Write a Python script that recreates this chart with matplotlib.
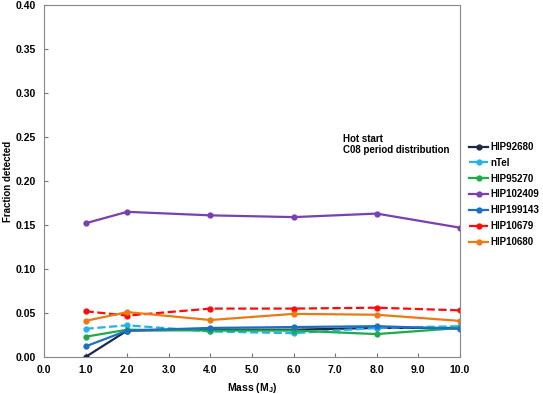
import matplotlib.pyplot as plt
import numpy as np

plt.rcParams['font.family'] = ['Liberation Sans', 'DejaVu Sans']
plt.rcParams['font.weight'] = 'bold'

mass = [1.0, 2.0, 4.0, 6.0, 8.0, 10.0]

hip92680 = [0.000, 0.030, 0.031, 0.031, 0.033, 0.033]
ntel = [0.032, 0.036, 0.029, 0.027, 0.033, 0.035]
hip95270 = [0.023, 0.031, 0.030, 0.030, 0.026, 0.033]
hip102409 = [0.152, 0.165, 0.161, 0.159, 0.163, 0.147]
hip199143 = [0.012, 0.030, 0.033, 0.034, 0.035, 0.032]
hip10679 = [0.052, 0.047, 0.055, 0.055, 0.056, 0.053]
hip10680 = [0.041, 0.051, 0.042, 0.049, 0.048, 0.041]

names = ['HIP92680', 'nTel', 'HIP95270', 'HIP102409', 'HIP199143', 'HIP10679', 'HIP10680']
series = [hip92680, ntel, hip95270, hip102409, hip199143, hip10679, hip10680]
colors = ['#1c2a48', '#22b4ec', '#1faa4c', '#7a3fb4', '#1a70c4', '#ff0a0a', '#ec7a14']
styles = ['-', '--', '-', '-', '-', '--', '-']

fig = plt.figure(figsize=(5.43, 3.94), dpi=100)
ax = fig.add_axes([0.081, 0.094, 0.766, 0.893])

for vals, name, c, ls in zip(series, names, colors, styles):
    ax.plot(mass, vals, ls, color=c, marker='o', markersize=3.5, linewidth=1.6,
            label=name)

ax.set_xlim(0, 10)
ax.set_ylim(0, 0.40)
ax.set_xticks(np.arange(0, 10.1, 1.0))
ax.set_xticklabels(['%.1f' % v for v in np.arange(0, 10.1, 1.0)])
ax.set_yticks(np.arange(0, 0.401, 0.05))
ax.set_yticklabels(['%.2f' % v for v in np.arange(0, 0.401, 0.05)])
ax.tick_params(direction='in', labelsize=7.5, length=3, color='#777777', pad=6)
for s in ax.spines.values():
    s.set_color('#888888')

ax.set_xlabel('Mass (M$_\\mathregular{J}$)', fontsize=7.5, fontweight='bold')
ax.set_ylabel('Fraction detected', fontsize=7, fontweight='bold', labelpad=2)

ax.text(7.18, 0.254, 'Hot start\nC08 period distribution', fontsize=7,
        fontweight='bold', va='top', linespacing=1.15)

ax.legend(loc='center left', bbox_to_anchor=(1.005, 0.462), frameon=False,
          fontsize=7, handlelength=2.0, handletextpad=0.2, labelspacing=0.6,
          borderaxespad=0.3)

fig.savefig('out.png', dpi=100)
